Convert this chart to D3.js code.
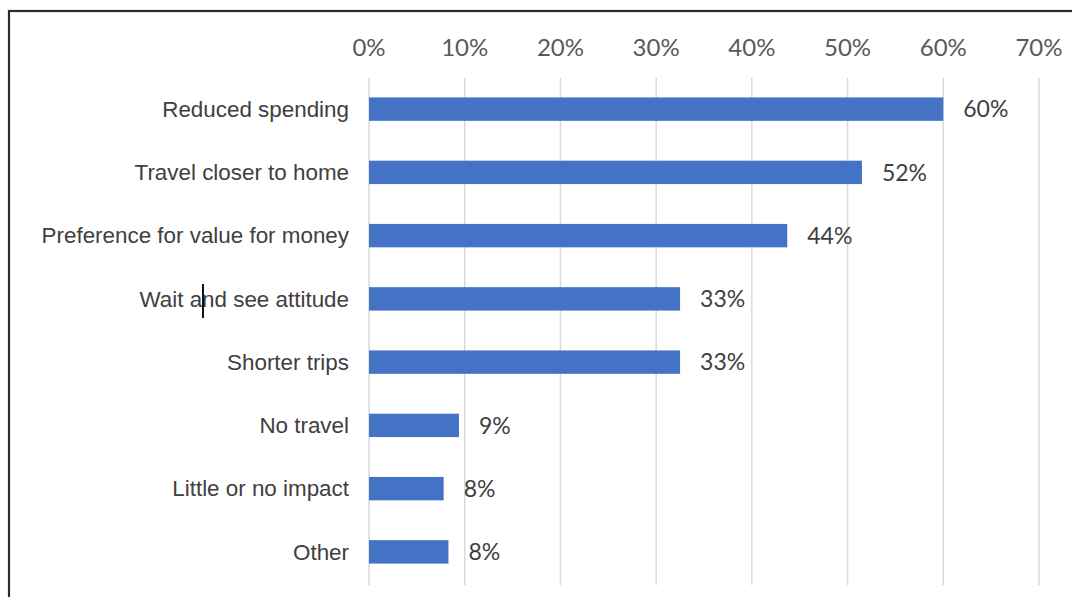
<!DOCTYPE html>
<html lang="en">
<head>
    <meta charset="UTF-8">
    <title>Travel behaviour</title>
    <script src="https://d3js.org/d3.v7.min.js"></script>
    <style>
        html, body { margin: 0; padding: 0; background: #fff; overflow: hidden; }
        .grid line { stroke: #d9d9d9; stroke-width: 1.5px; }
        .tick-label { font-family: Lato, "Open Sans", sans-serif; font-size: 24px; fill: #595959; }
        .cat-label { font-family: "Liberation Sans", Arial, sans-serif; font-size: 22.4px; fill: #404040; }
        .val-label { font-family: Lato, "Open Sans", sans-serif; font-size: 23px; fill: #404040; }
    </style>
</head>
<body>
<div id="chart"></div>
<script>
    // 数据
    const categories = ["Reduced spending", "Travel closer to home", "Preference for value for money",
        "Wait and see attitude", "Shorter trips", "No travel", "Little or no impact", "Other"];
    // bar lengths (fractions)
    const values = [0.60, 0.515, 0.437, 0.325, 0.325, 0.094, 0.078, 0.083];
    const valueLabels = ["60%", "52%", "44%", "33%", "33%", "9%", "8%", "8%"];
    const tickValues = [0, 0.1, 0.2, 0.3, 0.4, 0.5, 0.6, 0.7];

    const width = 1072, height = 597;
    const svg = d3.select("#chart").append("svg")
        .attr("width", width)
        .attr("height", height);

    // 外框
    svg.append("rect")
        .attr("x", 9).attr("y", 11)
        .attr("width", 1100).attr("height", 640)
        .attr("fill", "none")
        .attr("stroke", "#2b2b2b")
        .attr("stroke-width", 2.2);

    const x = d3.scaleLinear().domain([0, 0.7]).range([369, 1039]);
    const y = d3.scaleBand().domain(categories).range([77.5, 583.5]).paddingInner(0.63).paddingOuter(0.315);

    // 网格线
    svg.append("g").attr("class", "grid")
        .selectAll("line")
        .data(tickValues)
        .enter().append("line")
        .attr("x1", d => x(d)).attr("x2", d => x(d))
        .attr("y1", 78).attr("y2", 585);

    // 顶部刻度
    svg.append("g")
        .selectAll("text")
        .data(tickValues)
        .enter().append("text")
        .attr("class", "tick-label")
        .attr("x", d => x(d))
        .attr("y", 56)
        .attr("text-anchor", "middle")
        .text(d3.format(".0%"));

    // 条形
    svg.append("g")
        .selectAll("rect")
        .data(values)
        .enter().append("rect")
        .attr("x", x(0))
        .attr("y", (d, i) => y(categories[i]))
        .attr("width", d => x(d) - x(0))
        .attr("height", y.bandwidth())
        .attr("fill", "#4472c4");

    // 类别标签
    svg.append("g")
        .selectAll("text")
        .data(categories)
        .enter().append("text")
        .attr("class", "cat-label")
        .attr("x", x(0) - 20)
        .attr("y", d => y(d) + y.bandwidth() / 2)
        .attr("dy", "0.35em")
        .attr("text-anchor", "end")
        .text(d => d);

    // 数值标签
    svg.append("g")
        .selectAll("text")
        .data(values)
        .enter().append("text")
        .attr("class", "val-label")
        .attr("x", d => x(d) + 20)
        .attr("y", (d, i) => y(categories[i]) + y.bandwidth() / 2)
        .attr("dy", "0.36em")
        .text((d, i) => valueLabels[i]);

    // text cursor seen in the screenshot
    svg.append("line")
        .attr("x1", 203).attr("x2", 203)
        .attr("y1", 284).attr("y2", 318)
        .attr("stroke", "#111")
        .attr("stroke-width", 2);
</script>
</body>
</html>
